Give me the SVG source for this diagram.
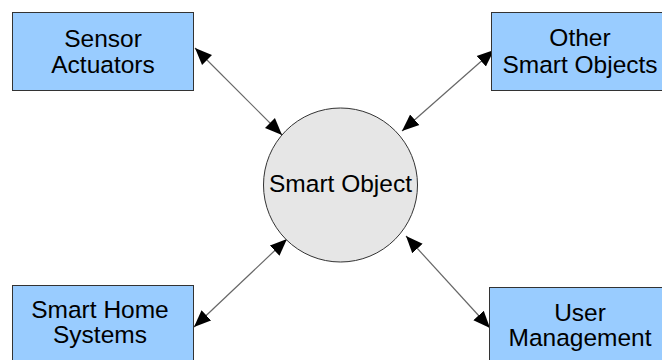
<svg xmlns="http://www.w3.org/2000/svg" width="662" height="360" viewBox="0 0 662 360">
<style>
.box{fill:#99ccff;stroke:#333333;stroke-width:1}
.circ{fill:#e6e6e6;stroke:#333333;stroke-width:1}
.lbl{font-family:"Liberation Sans",Arial,sans-serif;font-size:24.5px;fill:#000;text-anchor:middle}
.conn{stroke:#666666;stroke-width:1.2;fill:none;marker-start:url(#ah);marker-end:url(#ah)}
</style>
<defs>
<marker id="ah" markerUnits="userSpaceOnUse" markerWidth="18" markerHeight="15" refX="17" refY="7" orient="auto-start-reverse" viewBox="0 0 18 14">
<path d="M0,0 L17,7 L0,14 Z" fill="#000"/>
</marker>
</defs>
<rect width="662" height="360" fill="#ffffff"/>
<g id="connectors">
<line class="conn" x1="195" y1="48" x2="282" y2="135"/>
<line class="conn" x1="494" y1="50" x2="402" y2="131"/>
<line class="conn" x1="194" y1="327" x2="287" y2="239"/>
<line class="conn" x1="490" y1="328" x2="406" y2="236"/>
</g>
<g id="sensor-actuators">
<rect class="box" x="12.5" y="12.5" width="181" height="78"/>
<text class="lbl" x="103" y="47">Sensor</text>
<text class="lbl" x="103" y="73">Actuators</text>
</g>
<g id="other-smart-objects">
<rect class="box" x="491.5" y="12.5" width="178" height="78"/>
<text class="lbl" x="580" y="46">Other</text>
<text class="lbl" x="580" y="73">Smart Objects</text>
</g>
<g id="smart-home-systems">
<rect class="box" x="12.5" y="285.5" width="181" height="80"/>
<text class="lbl" x="100" y="318">Smart Home</text>
<text class="lbl" x="100" y="343">Systems</text>
</g>
<g id="user-management">
<rect class="box" x="489.5" y="287.5" width="182" height="80"/>
<text class="lbl" x="580" y="321">User</text>
<text class="lbl" x="580" y="346">Management</text>
</g>
<g id="smart-object">
<circle class="circ" cx="340.5" cy="185" r="77"/>
<text class="lbl" x="340.5" y="192">Smart Object</text>
</g>
</svg>
